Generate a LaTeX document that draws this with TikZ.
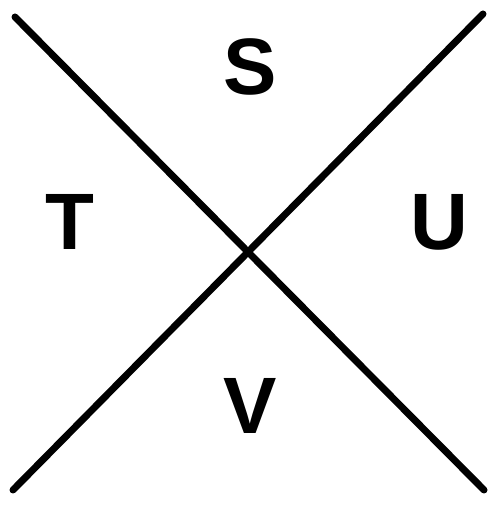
\documentclass[tikz,border=0pt]{standalone}
\usepackage{fontspec}
\setmainfont{Liberation Sans}
\begin{document}
\begin{tikzpicture}[x=1pt,y=1pt,
  crossline/.style={line width=7pt,line cap=round},
  letter/.style={font=\fontsize{80}{80}\selectfont\bfseries,inner sep=0pt}]
\useasboundingbox (0,0) rectangle (488,505);
\coordinate (a1) at (15,488);
\coordinate (a2) at (484,15);
\coordinate (b1) at (483,491);
\coordinate (b2) at (13,15);
\draw[crossline] (a1) -- (a2);
\draw[crossline] (b1) -- (b2);
\node[letter] (S) at (250,438) {S};
\node[letter] (T) at (70,283) {T};
\node[letter] (U) at (439,283) {U};
\node[letter] (V) at (250,99) {V};
\end{tikzpicture}
\end{document}
